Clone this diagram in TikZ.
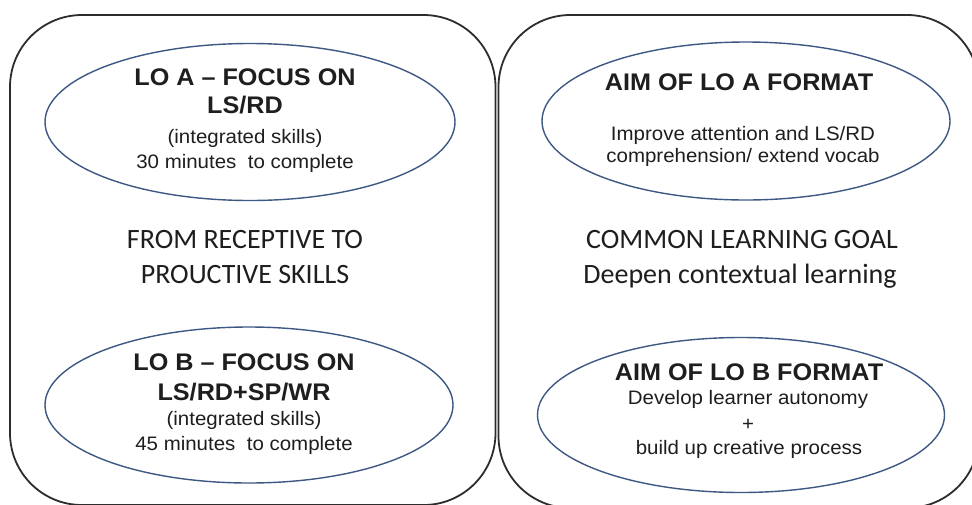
\documentclass[tikz,border=0pt]{standalone}
\usepackage{fontspec}
\setmainfont{Liberation Sans}[FakeStretch=1.05]
\newfontfamily\calibri{Carlito}
\usetikzlibrary{shapes.geometric}

\definecolor{boxgray}{RGB}{45,45,45}
\definecolor{ovalblue}{RGB}{62,88,132}
\definecolor{ink}{RGB}{30,30,30}

\tikzset{
  panel/.style={draw=boxgray, line width=1.8pt, rounded corners=72pt},
  oval/.style={ellipse, draw=ovalblue, line width=1.4pt, inner sep=0pt},
  head/.style={anchor=base, inner sep=0pt, text=ink,
    font=\fontsize{24}{28}\selectfont\bfseries},
  body/.style={anchor=base, inner sep=0pt, text=ink,
    font=\fontsize{19.5}{23}\selectfont},
  mid/.style={anchor=base, inner sep=0pt, text=ink,
    font=\calibri\fontsize{28}{32}\selectfont},
}

\begin{document}
\begin{tikzpicture}[x=1pt, y=-1pt]
  \useasboundingbox (0,0) rectangle (972,504);
  \clip (0,0) rectangle (972,504);
  \fill[white] (0,0) rectangle (972,504);

  % two panels
  \draw[panel] (10,15) rectangle (495.5,505);
  \draw[panel] (498.5,15) rectangle (979,508);

  % ovals
  \node[oval, minimum width=410pt, minimum height=157pt] (e1) at (250,122) {};
  \node[oval, minimum width=408pt, minimum height=158pt] (e2) at (746,121) {};
  \node[oval, minimum width=408pt, minimum height=156pt] (e3) at (249,405) {};
  \node[oval, minimum width=407pt, minimum height=155pt] (e4) at (741,415) {};

  % left panel, upper oval
  \node[head] (a1) at (245,85)  {LO A -- FOCUS ON};
  \node[head] (a2) at (245,113) {LS/RD};
  \node[body] (a3) at (245,143.5) {(integrated skills)};
  \node[body] (a4) at (245,168) {30 minutes\ \ to complete};

  % left panel, middle
  \node[mid] (m1) at (245,248) {FROM RECEPTIVE TO};
  \node[mid] (m2) at (245,283) {PROUCTIVE SKILLS};

  % left panel, lower oval
  \node[head] (b1) at (244,370) {LO B -- FOCUS ON};
  \node[head] (b2) at (244,400) {LS/RD+SP/WR};
  \node[body] (b3) at (244,425) {(integrated skills)};
  \node[body] (b4) at (244,450) {45 minutes\ \ to complete};

  % right panel, upper oval
  \node[head] (c1) at (739,90)  {AIM OF LO A FORMAT};
  \node[body] (c2) at (743,140) {Improve attention and LS/RD};
  \node[body] (c3) at (743,162) {comprehension/ extend vocab};

  % right panel, middle
  \node[mid] (n1) at (742,248) {COMMON LEARNING GOAL};
  \node[mid] (n2) at (740,283) {Deepen contextual learning};

  % right panel, lower oval
  \node[head] (d1) at (749,380) {AIM OF LO B FORMAT};
  \node[body] (d2) at (748,404) {Develop learner autonomy};
  \node[body] (d3) at (748,430) {+};
  \node[body] (d4) at (749,454) {build up creative process};
\end{tikzpicture}
\end{document}
